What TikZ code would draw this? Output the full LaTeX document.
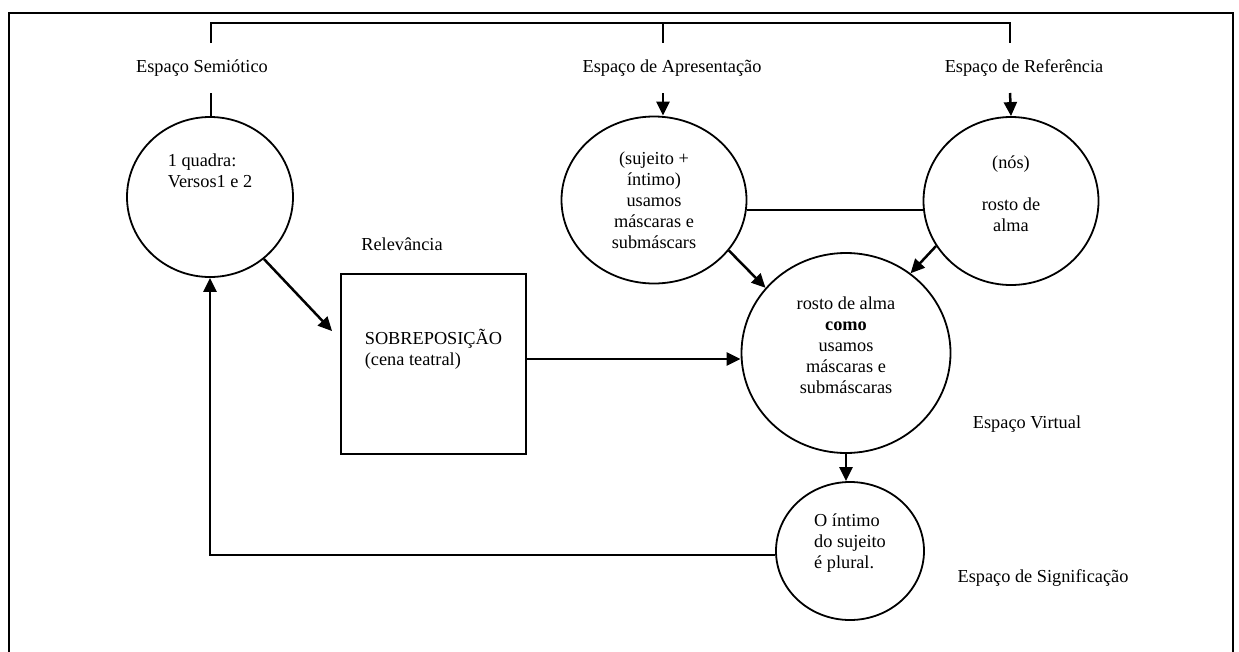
\documentclass[tikz,border=0pt]{standalone}
\usepackage{fontspec}
\setmainfont{Liberation Serif}
\usetikzlibrary{arrows.meta,positioning,shapes.geometric}

\begin{document}
\begin{tikzpicture}[x=1pt, y=-1pt,
                    main node/.style={draw,ellipse,line width=1.8pt,inner sep=0pt,align=center,font=\fontsize{18.3}{21}\selectfont},
                    box node/.style={draw,rectangle,line width=1.8pt,inner sep=0pt,align=left,minimum width=185pt,minimum height=180pt,font=\fontsize{18.3}{21}\selectfont},
                    space node/.style={inner sep=0pt,font=\fontsize{18.3}{21}\selectfont},
                    link/.style={line width=2pt},
                    flow/.style={line width=2.5pt,-{Triangle[length=14pt,width=13pt]}}]

  \useasboundingbox (0,0) rectangle (1239,651);
  \draw[line width=2.8pt] (9,700) -- (9,13) -- (1233,13) -- (1233,700);

  \node[main node, minimum width=166pt, minimum height=160pt, align=left] (1) at (210,197) {1 quadra:\\Versos1 e 2\\[31pt]\mbox{}};
  \node[main node, minimum width=185pt, minimum height=167pt] (2) at (654,200) {(sujeito +\\íntimo)\\usamos\\máscaras e\\submáscars};
  \node[main node, minimum width=175pt, minimum height=168pt] (3) at (1011,201) {(nós)\\[21pt]rosto de\\alma\\[-7pt]\mbox{}};
  \node[main node, minimum width=209pt, minimum height=200pt] (4) at (846,353) {rosto de alma\\\textbf{como}\\usamos\\máscaras e\\submáscaras\\[-5pt]\mbox{}};
  \node[main node, minimum width=148pt, minimum height=138pt, align=left] (5) at (850,551) {O íntimo\\do sujeito\\é plural.\\[-1pt]\mbox{}};
  \node[box node] (6) at (433.5,364) {SOBREPOSIÇÃO\\(cena teatral)\\[13pt]\mbox{}};

  \node[space node] (s) at (202,68) {Espaço Semiótico};
  \node[space node] (a) at (672,68) {Espaço de Apresentação};
  \node[space node] (r) at (1024,68) {Espaço de Referência};
  \node[space node] (rel) at (402,244) {Relevância};
  \node[space node] (v) at (1027,424) {Espaço Virtual};
  \node[space node] (sig) at (1043,578) {Espaço de Significação};

  \coordinate (t1) at (211,43);
  \coordinate (t2) at (663,23);
  \coordinate (t3) at (1010,23);
  \coordinate (b2) at (663,43);
  \coordinate (b3) at (1010,43);
  \coordinate (d1) at (211,93);
  \coordinate (d2) at (663,93);
  \coordinate (d3) at (1010,93);

  \draw[link] (t1) |- (t3) -- (b3);
  \draw[link] (t2) -- (b2);
  \draw[link] (d1) -- (d1 |- 1.north);
  \draw[flow] (d2) -- (d2 |- 2.north);
  \draw[flow] (d3) -- (3.north);

  \draw[link] (2.-6) -- (2.-6 -| 3.west);
  \draw[flow] (1.-49) -- ([xshift=-8pt,yshift=-58pt]6.north west);
  \draw[flow] ([yshift=5pt]6.east) -- ([yshift=5pt]6.east -| 4.west);
  \draw[flow] (2.-34) -- (4.141);
  \draw[flow] (3.211) -- (4.51);
  \draw[flow] (4.south) -- (4.south |- 5.north);
  \draw[flow] ([yshift=-4pt]5.west) -| (1.south);
\end{tikzpicture}
\end{document}
